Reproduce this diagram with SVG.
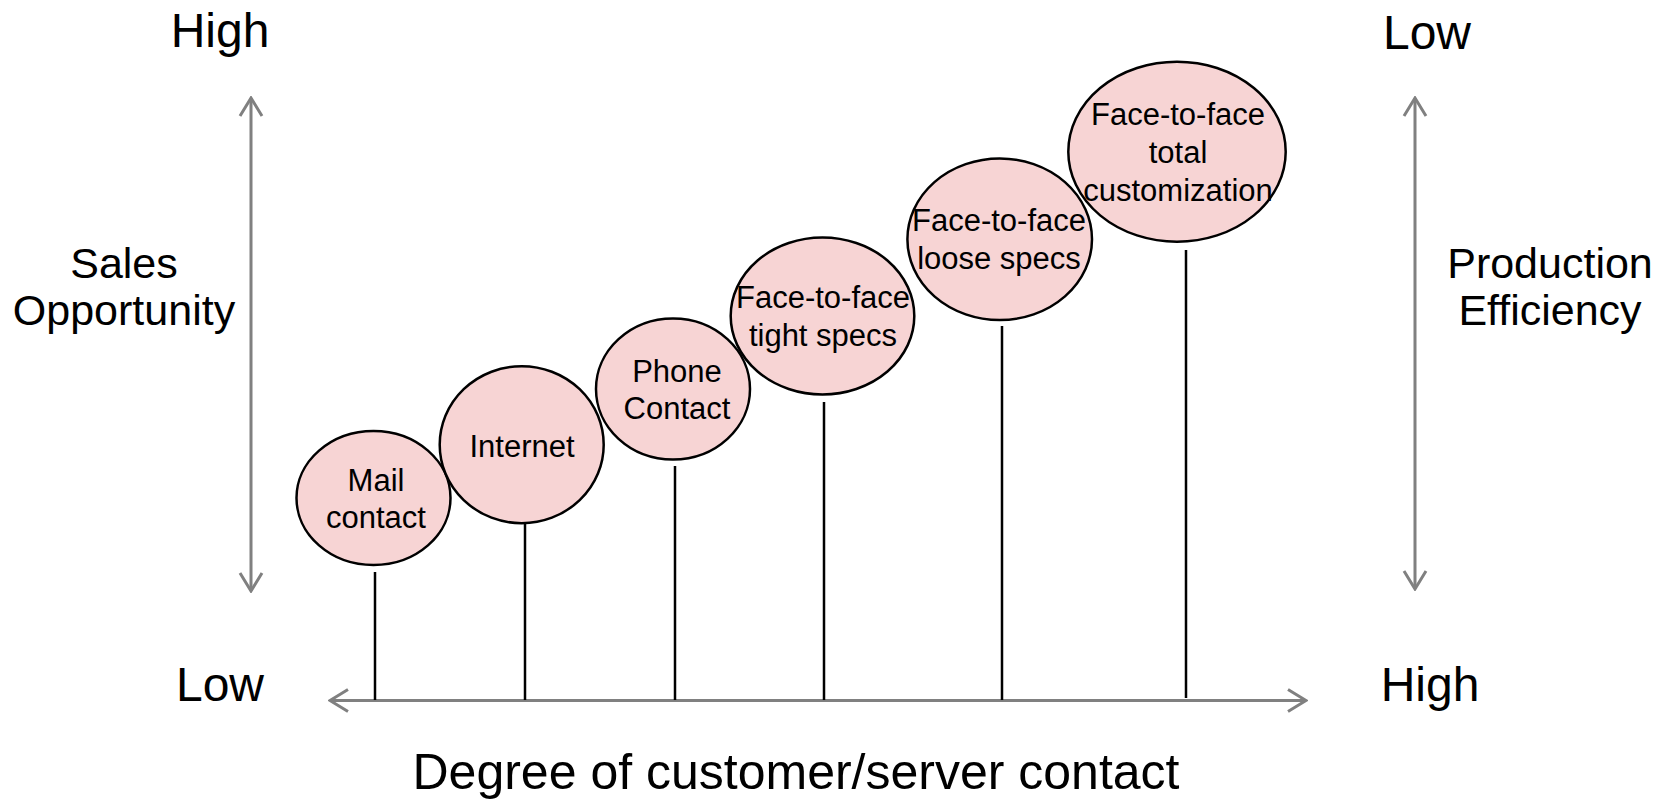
<svg xmlns="http://www.w3.org/2000/svg" width="1667" height="800" viewBox="0 0 1667 800">
  <style>
    .bubble { fill: #f7d4d4; stroke: #000; stroke-width: 2.5; }
    .stem { stroke: #000; stroke-width: 2.5; fill: none; }
    .axis { stroke: #808080; stroke-width: 3; fill: none; }
    .lbl { font-family: "Liberation Sans", Arial, sans-serif; font-size: 31px; fill: #000; text-anchor: middle; }
    .big { font-family: "Liberation Sans", Arial, sans-serif; font-size: 48px; fill: #000; text-anchor: middle; }
    .side { font-family: "Liberation Sans", Arial, sans-serif; font-size: 43px; fill: #000; text-anchor: middle; }
  </style>
  <defs>
    <marker id="chev" viewBox="0 0 22 26" markerUnits="userSpaceOnUse" markerWidth="22" markerHeight="26" refX="20" refY="13" orient="auto-start-reverse">
      <path d="M2,2 L20,13 L2,24" fill="none" stroke="#808080" stroke-width="3"/>
    </marker>
  </defs>

  <rect width="1667" height="800" fill="#fff"/>

  <!-- axes -->
  <g id="axes">
    <line class="axis" x1="251" y1="98" x2="251" y2="591" marker-start="url(#chev)" marker-end="url(#chev)"/>
    <line class="axis" x1="1415" y1="98" x2="1415" y2="589" marker-start="url(#chev)" marker-end="url(#chev)"/>
    <line class="axis" x1="330" y1="700.5" x2="1306" y2="700.5" marker-start="url(#chev)" marker-end="url(#chev)"/>
  </g>

  <!-- stems from each bubble down to the horizontal axis -->
  <g id="connectors">
    <line class="stem" x1="375" y1="572" x2="375" y2="700"/>
    <line class="stem" x1="525" y1="523" x2="525" y2="700"/>
    <line class="stem" x1="675" y1="466" x2="675" y2="700"/>
    <line class="stem" x1="824" y1="402" x2="824" y2="700"/>
    <line class="stem" x1="1002" y1="326" x2="1002" y2="700"/>
    <line class="stem" x1="1186" y1="250" x2="1186" y2="698"/>
  </g>

  <g id="mail">
    <ellipse class="bubble" cx="373.5" cy="498" rx="77" ry="67"/>
    <text class="lbl" x="376" y="491">Mail</text>
    <text class="lbl" x="376" y="528">contact</text>
  </g>
  <g id="internet">
    <ellipse class="bubble" cx="521.7" cy="444.7" rx="82" ry="78.5"/>
    <text class="lbl" x="522" y="457">Internet</text>
  </g>
  <g id="phone">
    <ellipse class="bubble" cx="673" cy="389" rx="77" ry="70.5"/>
    <text class="lbl" x="677" y="382">Phone</text>
    <text class="lbl" x="677" y="419">Contact</text>
  </g>
  <g id="tight">
    <ellipse class="bubble" cx="822.5" cy="316" rx="91.8" ry="78.5"/>
    <text class="lbl" x="823" y="308">Face-to-face</text>
    <text class="lbl" x="823" y="346">tight specs</text>
  </g>
  <g id="loose">
    <ellipse class="bubble" cx="999.7" cy="239.2" rx="92.3" ry="80.8"/>
    <text class="lbl" x="999" y="231">Face-to-face</text>
    <text class="lbl" x="999" y="269">loose specs</text>
  </g>
  <g id="total">
    <ellipse class="bubble" cx="1177" cy="151.7" rx="108.7" ry="90"/>
    <text class="lbl" x="1178" y="125">Face-to-face</text>
    <text class="lbl" x="1178" y="163">total</text>
    <text class="lbl" x="1178" y="201">customization</text>
  </g>

  <!-- axis labels -->
  <g id="labels">
    <text class="big" x="220" y="47">High</text>
    <text class="big" x="220" y="701">Low</text>
    <text class="big" x="1427" y="49">Low</text>
    <text class="big" x="1430" y="701">High</text>
    <text class="side" x="124" y="278">Sales</text>
    <text class="side" x="124" y="325">Opportunity</text>
    <text class="side" x="1550" y="278">Production</text>
    <text class="side" x="1550" y="325">Efficiency</text>
    <text class="big" x="796" y="789" style="font-size:50px">Degree of customer/server contact</text>
  </g>
</svg>
